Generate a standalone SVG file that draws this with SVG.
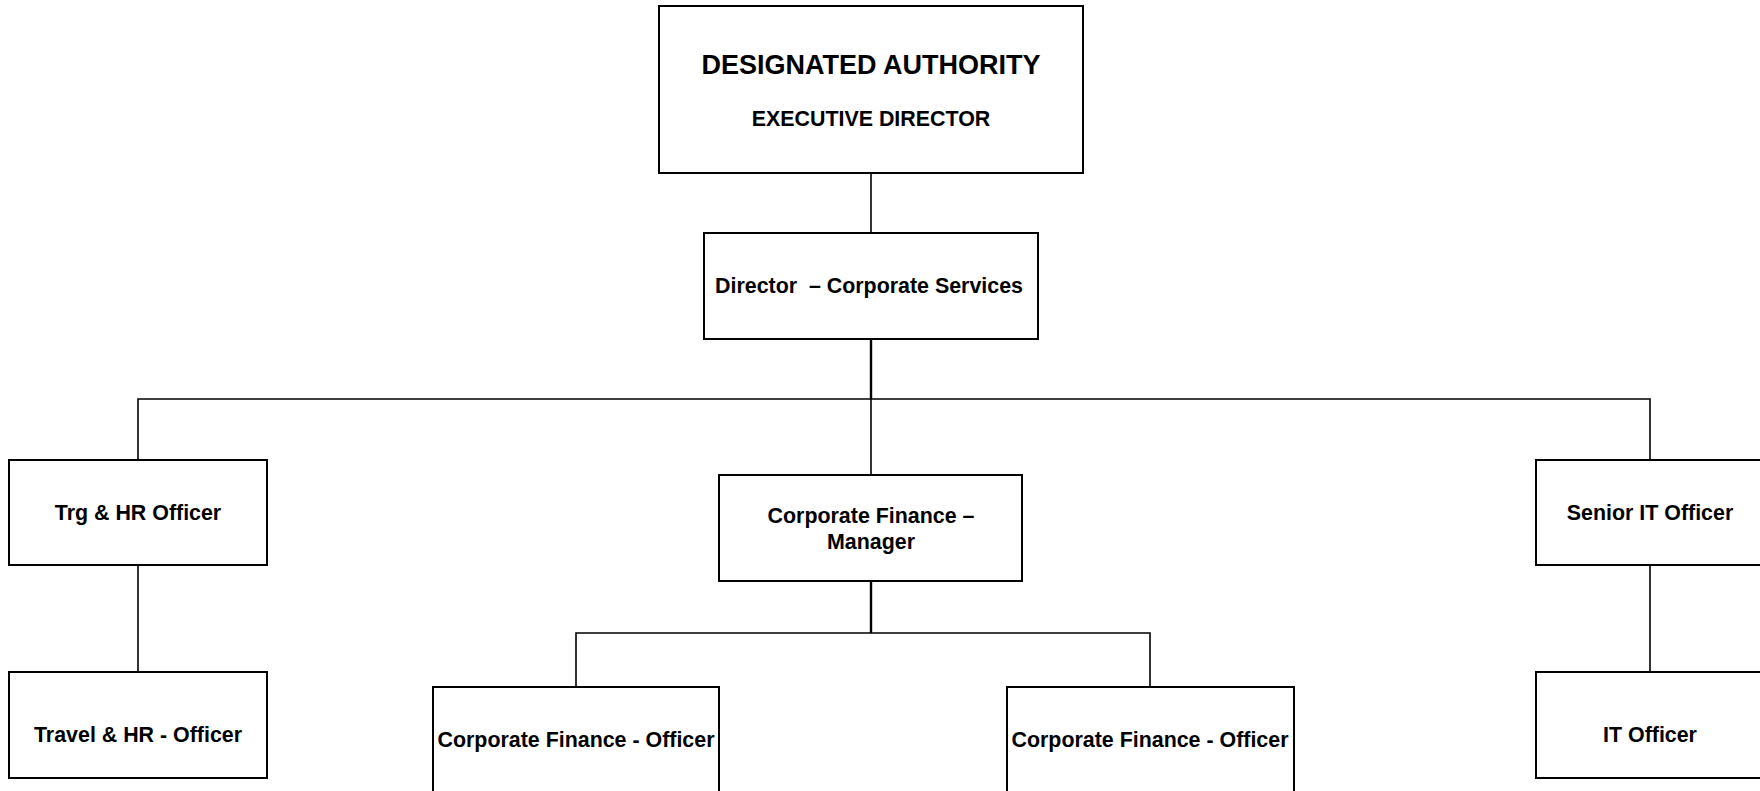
<svg xmlns="http://www.w3.org/2000/svg" width="1760" height="791" viewBox="0 0 1760 791">
<style>
.box{fill:#fff;stroke:#000;stroke-width:2}
.t{font-family:"Liberation Sans",Arial,sans-serif;font-weight:bold;font-size:21.4px;fill:#000;text-anchor:middle}
.c{fill:none;stroke:#000;stroke-width:1.6}
.ct{fill:none;stroke:#000;stroke-width:2.4}
</style>
<rect width="1760" height="791" fill="#fff"/>
<g id="connectors">
<line class="c" x1="871" y1="173" x2="871" y2="233"/>
<line class="ct" x1="871" y1="339" x2="871" y2="399"/>
<line class="c" x1="871" y1="399" x2="871" y2="475"/>
<polyline class="c" points="138,460 138,399 1650,399 1650,460"/>
<line class="c" x1="138" y1="565" x2="138" y2="672"/>
<line class="c" x1="1650" y1="565" x2="1650" y2="672"/>
<line class="ct" x1="871" y1="581" x2="871" y2="633"/>
<polyline class="c" points="576,687 576,633 1150,633 1150,687"/>
</g>
<g id="designated-authority">
<rect class="box" x="659" y="6" width="424" height="167"/>
<text class="t" x="871" y="74" style="font-size:27px">DESIGNATED AUTHORITY</text>
<text class="t" x="871" y="126">EXECUTIVE DIRECTOR</text>
</g>
<g id="director-corporate-services">
<rect class="box" x="704" y="233" width="334" height="106"/>
<text class="t" x="869" y="293" xml:space="preserve">Director  – Corporate Services</text>
</g>
<g id="trg-hr-officer">
<rect class="box" x="9" y="460" width="258" height="105"/>
<text class="t" x="138" y="520">Trg &amp; HR Officer</text>
</g>
<g id="travel-hr-officer">
<rect class="box" x="9" y="672" width="258" height="106"/>
<text class="t" x="138" y="742">Travel &amp; HR - Officer</text>
</g>
<g id="corporate-finance-manager">
<rect class="box" x="719" y="475" width="303" height="106"/>
<text class="t" x="871" y="523">Corporate Finance –</text>
<text class="t" x="871" y="549">Manager</text>
</g>
<g id="corporate-finance-officer-1">
<rect class="box" x="433" y="687" width="286" height="120"/>
<text class="t" x="576" y="747">Corporate Finance - Officer</text>
</g>
<g id="corporate-finance-officer-2">
<rect class="box" x="1007" y="687" width="287" height="120"/>
<text class="t" x="1150" y="747">Corporate Finance - Officer</text>
</g>
<g id="senior-it-officer">
<rect class="box" x="1536" y="460" width="258" height="105"/>
<text class="t" x="1650" y="520">Senior IT Officer</text>
</g>
<g id="it-officer">
<rect class="box" x="1536" y="672" width="258" height="106"/>
<text class="t" x="1650" y="742">IT Officer</text>
</g>
</svg>
